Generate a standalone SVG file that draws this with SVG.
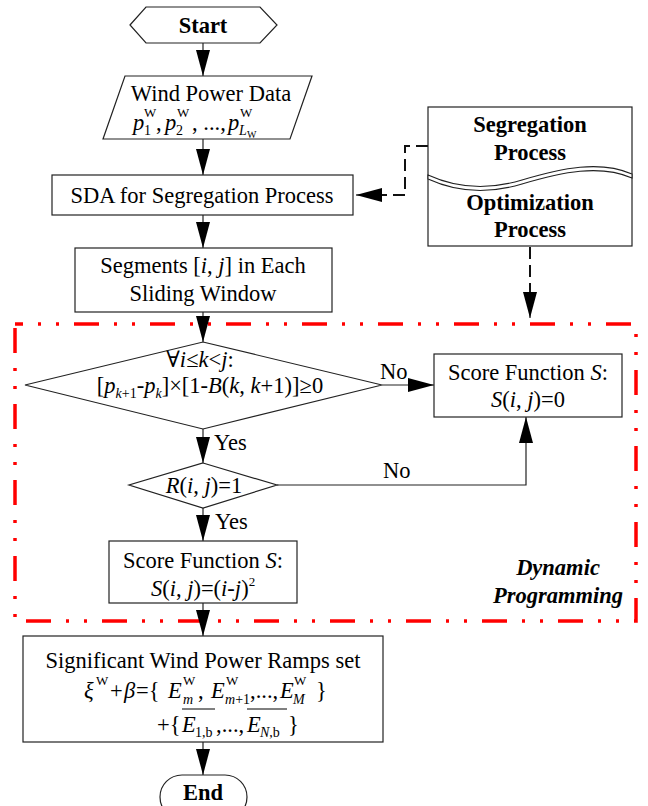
<svg xmlns="http://www.w3.org/2000/svg" width="648" height="806" viewBox="0 0 648 806" font-family="'Liberation Serif', 'Times New Roman', Times, 'DejaVu Serif', serif">
<defs>
<style>
.s{fill:#fff;stroke:#222;stroke-width:1.2}
.t{font-family:'Liberation Serif','Times New Roman',Times,'DejaVu Serif',serif;font-size:22.5px;fill:#000}
.b{font-weight:bold}
.i{font-style:italic}
.m{text-anchor:middle}
.sub{font-size:14px}
.sup{font-size:13px}
.c{fill:none;stroke:#222;stroke-width:1.2}
.d{fill:none;stroke:#111;stroke-width:2;stroke-dasharray:12 6}
.red{fill:none;stroke:#f00;stroke-width:3.5;stroke-dasharray:25 15 3 15 3 15}
</style>
<marker id="ah" markerUnits="userSpaceOnUse" markerWidth="28" markerHeight="16" refX="26" refY="7" orient="auto">
<path d="M0,0 L26,7 L0,14 z" fill="#000"/>
</marker>
</defs>
<rect width="648" height="806" fill="#fff"/>

<g id="dp-frame">
<rect class="red" x="15" y="324" width="621" height="297" stroke-dashoffset="17"/>
<text class="t b i m" x="558" y="575">Dynamic</text>
<text class="t b i m" x="558" y="603">Programming</text>
</g>

<g id="connectors">
<line class="c" x1="203" y1="43" x2="203" y2="76" marker-end="url(#ah)"/>
<line class="c" x1="203" y1="139" x2="203" y2="175" marker-end="url(#ah)"/>
<line class="c" x1="203" y1="215" x2="203" y2="248" marker-end="url(#ah)"/>
<line class="c" x1="203" y1="312" x2="203" y2="342" marker-end="url(#ah)"/>
<line class="c" x1="382" y1="385" x2="434" y2="385" marker-end="url(#ah)"/>
<line class="c" x1="203" y1="429" x2="203" y2="463" marker-end="url(#ah)"/>
<polyline class="c" points="277,485 526,485 526,417" marker-end="url(#ah)"/>
<line class="c" x1="203" y1="508" x2="203" y2="541" marker-end="url(#ah)"/>
<line class="c" x1="203" y1="603" x2="203" y2="636" marker-end="url(#ah)"/>
<line class="c" x1="203" y1="742" x2="203" y2="775" marker-end="url(#ah)"/>
<polyline class="d" points="428,146 405,146 405,195 380,195"/>
<line class="c" x1="382" y1="195" x2="356" y2="195" marker-end="url(#ah)"/>
<line class="d" x1="530" y1="247" x2="530" y2="292"/>
<line class="c" x1="530" y1="290" x2="530" y2="318" marker-end="url(#ah)"/>
<text class="t" x="380" y="379">No</text>
<text class="t" x="383" y="478">No</text>
<text class="t" x="214" y="450">Yes</text>
<text class="t" x="215" y="529">Yes</text>
</g>

<g id="start">
<polygon class="s" points="130,25 146,7 260,7 277,25 260,43 146,43"/>
<text class="t b m" x="203" y="33">Start</text>
</g>

<g id="wind-data">
<polygon class="s" points="125,76 312,76 290,139 103,139"/>
<text class="t m" x="211" y="101">Wind Power Data</text>
<text class="t i" x="133" y="130">p</text>
<text class="t sub" x="144" y="135">1</text>
<text class="t sup" x="144" y="117">W</text>
<text class="t" x="156" y="130">,</text>
<text class="t i" x="165" y="130">p</text>
<text class="t sub" x="176" y="135">2</text>
<text class="t sup" x="177" y="117">W</text>
<text class="t" x="192" y="130">, ...,</text>
<text class="t i" x="228" y="130">p</text>
<text class="t sub i" x="239" y="135">L</text>
<text class="t" style="font-size:10px" x="247" y="138">W</text>
<text class="t sup" x="240" y="117">W</text>
</g>

<g id="sda">
<rect class="s" x="52" y="175" width="301" height="40"/>
<text class="t m" x="202" y="203">SDA for Segregation Process</text>
</g>

<g id="segments">
<rect class="s" x="75" y="248" width="257" height="64"/>
<text class="t m" x="203" y="273">Segments [<tspan class="i">i</tspan>, <tspan class="i">j</tspan>] in Each</text>
<text class="t m" x="203" y="301">Sliding Window</text>
</g>

<g id="process-box">
<rect class="s" x="428" y="107" width="204" height="139"/>
<path d="M428,175 C452,186 482,192 522,180 C562,168 600,160 632,174 L632,178 C600,164 562,172 522,184 C482,196 452,190 428,179 z" fill="#fff" stroke="#222" stroke-width="1.1"/>
<text class="t b m" x="530" y="132">Segregation</text>
<text class="t b m" x="530" y="160">Process</text>
<text class="t b m" x="530" y="210">Optimization</text>
<text class="t b m" x="530" y="237">Process</text>
</g>

<g id="cond1">
<polygon class="s" points="203,342 382,385 203,429 25,385"/>
<text class="t m" x="200" y="367">∀<tspan class="i">i</tspan>≤<tspan class="i">k</tspan>&lt;<tspan class="i">j</tspan>:</text>
<text class="t m" x="210" y="393">[<tspan class="i">p</tspan><tspan class="sub" dy="5"><tspan class="i">k</tspan>+1</tspan><tspan dy="-5">-</tspan><tspan class="i">p</tspan><tspan class="sub i" dy="5">k</tspan><tspan dy="-5">]×[1-</tspan><tspan class="i">B</tspan>(<tspan class="i">k</tspan>, <tspan class="i">k</tspan>+1)]≥0</text>
</g>

<g id="score0">
<rect class="s" x="434" y="354" width="188" height="63"/>
<text class="t m" x="528" y="380">Score Function <tspan class="i">S</tspan>:</text>
<text class="t m" x="528" y="407"><tspan class="i">S</tspan>(<tspan class="i">i</tspan>, <tspan class="i">j</tspan>)=0</text>
</g>

<g id="cond2">
<polygon class="s" points="203,463 277,485 203,508 129,485"/>
<text class="t m" x="204" y="493"><tspan class="i">R</tspan>(<tspan class="i">i</tspan>, <tspan class="i">j</tspan>)=1</text>
</g>

<g id="score2">
<rect class="s" x="109" y="541" width="188" height="62"/>
<text class="t m" x="203" y="568">Score Function <tspan class="i">S</tspan>:</text>
<text class="t m" x="203" y="596"><tspan class="i">S</tspan>(<tspan class="i">i</tspan>, <tspan class="i">j</tspan>)=(<tspan class="i">i</tspan>-<tspan class="i">j</tspan>)<tspan class="sup" dy="-10">2</tspan></text>
</g>

<g id="ramps">
<rect class="s" x="23" y="636" width="360" height="106"/>
<text class="t m" x="203" y="668">Significant Wind Power Ramps set</text>
<text class="t i" x="84" y="698">ξ</text>
<text class="t sup" x="96" y="685">W</text>
<text class="t" x="110" y="698">+</text>
<text class="t i" x="124" y="698">β</text>
<text class="t" x="136" y="698">={</text>
<text class="t i" x="168" y="698">E</text>
<text class="t sup" x="183" y="685">W</text>
<text class="t sub i" x="183" y="704">m</text>
<text class="t" x="198" y="698">,</text>
<text class="t i" x="211" y="698">E</text>
<text class="t sup" x="226" y="685">W</text>
<text class="t sub" x="225" y="704"><tspan class="i">m</tspan>+1</text>
<text class="t" x="250" y="698">,...,</text>
<text class="t i" x="280" y="698">E</text>
<text class="t sup" x="294" y="685">W</text>
<text class="t sub i" x="293" y="704">M</text>
<text class="t" x="316" y="698">}</text>
<text class="t" x="157" y="732">+{</text>
<text class="t i" x="182" y="732">E</text>
<text class="t sub" x="195" y="737">1,b</text>
<line x1="182" y1="709" x2="215" y2="709" stroke="#000" stroke-width="1"/>
<text class="t" x="216" y="732">,...,</text>
<text class="t i" x="247" y="732">E</text>
<text class="t sub" x="260" y="737"><tspan class="i">N</tspan>,b</text>
<line x1="247" y1="709" x2="287" y2="709" stroke="#000" stroke-width="1"/>
<text class="t" x="288" y="732">}</text>
</g>

<g id="end">
<rect class="s" x="160" y="775" width="87" height="44" rx="22"/>
<text class="t b m" x="203" y="800">End</text>
</g>
</svg>
